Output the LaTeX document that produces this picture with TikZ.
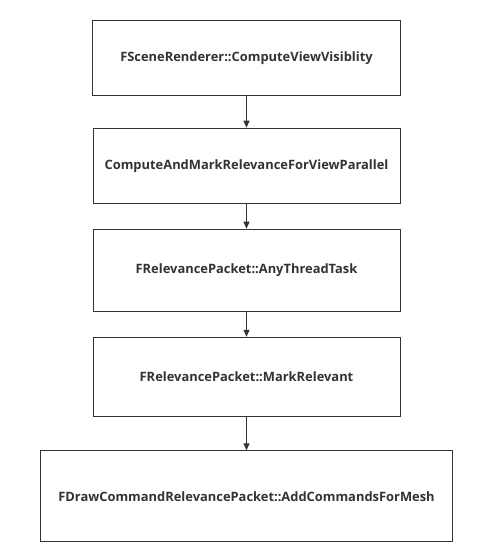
\documentclass[tikz,border=0pt]{standalone}
\usepackage{fontspec}
\setmainfont{Open Sans}[BoldFont={* Bold}]
\usetikzlibrary{arrows.meta}
\definecolor{ink}{HTML}{333333}
\begin{document}
\begin{tikzpicture}[x=1pt,y=-1pt,
  box/.style={draw=ink,line width=1pt,fill=white,text=ink,font=\bfseries\fontsize{12.9}{15}\selectfont,inner sep=0pt},
  arr/.style={draw=ink,line width=1pt,-{Triangle[length=7pt,width=6pt]}}]
\useasboundingbox (0,0) rectangle (500,558);
\node[box,minimum width=308pt,minimum height=75pt] (a) at (246.5,58) {FSceneRenderer::ComputeViewVisiblity};
\node[box,minimum width=307pt,minimum height=75pt] (b) at (246.5,165.7) {ComputeAndMarkRelevanceForViewParallel};
\node[box,minimum width=307pt,minimum height=82pt] (c) at (246.5,270.2) {FRelevancePacket::AnyThreadTask};
\node[box,minimum width=307pt,minimum height=79pt] (d) at (246.5,376.8) {FRelevancePacket::MarkRelevant};
\node[box,minimum width=412pt,minimum height=91pt] (e) at (246.5,496.3) {FDrawCommandRelevancePacket::AddCommandsForMesh};
\draw[arr] (a) -- (b);
\draw[arr] (b) -- (c);
\draw[arr] (c) -- (d);
\draw[arr] (d) -- (e);
\end{tikzpicture}
\end{document}
